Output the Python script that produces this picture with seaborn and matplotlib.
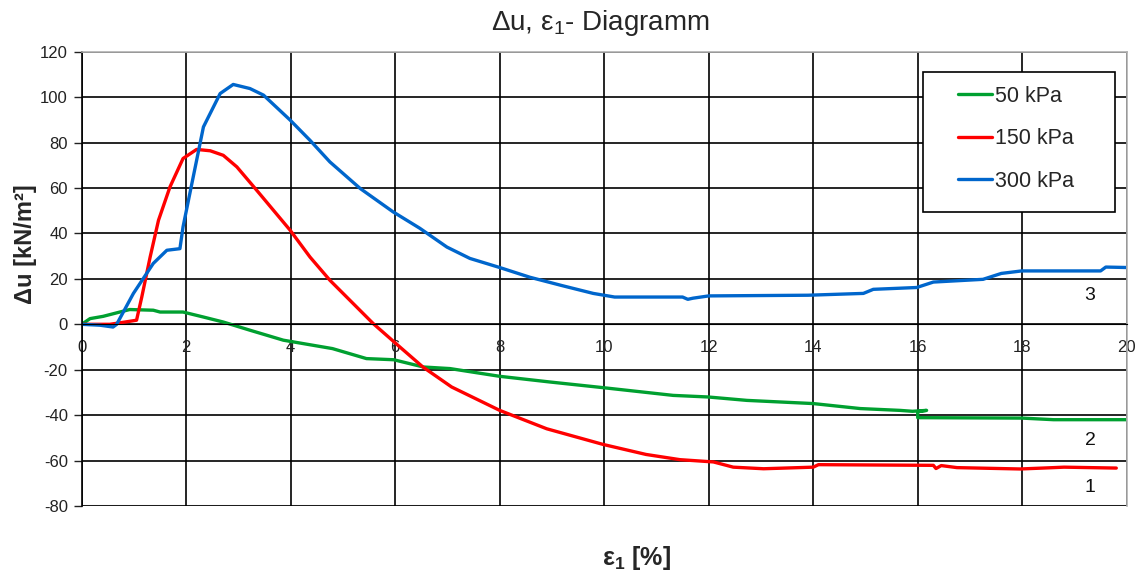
import pandas as pd
import numpy as np
import matplotlib
matplotlib.use("Agg")
import matplotlib.pyplot as plt
from matplotlib.patches import Rectangle
import seaborn as sns

# values
eps_50 = [0, 0.16, 0.41, 0.73, 0.92, 1.37, 1.5, 1.94, 2.33, 2.71, 3.22, 3.86, 4.8, 5.45, 5.97,
          6.54, 7.05, 8.0, 8.96, 9.98, 11.32, 11.99, 12.73, 14.0, 14.9, 15.66, 15.9, 16.17,
          16.0, 16.0, 18.0, 18.6, 20.0]
du_50 = [0, 2.5, 3.5, 5.4, 6.5, 6.2, 5.4, 5.4, 3.2, 1.0, -2.6, -7.0, -10.7, -15.1, -15.6,
         -18.8, -19.5, -22.9, -25.4, -27.9, -31.3, -32.0, -33.5, -34.9, -37.1, -37.9, -38.3, -37.9,
         -38.5, -41.1, -41.3, -42.0, -42.0]

eps_150 = [0, 0.54, 0.83, 1.05, 1.15, 1.31, 1.47, 1.69, 1.94, 2.2, 2.46, 2.71, 2.97, 3.35,
           3.99, 4.37, 4.75, 5.58, 6.09, 6.53, 7.08, 8.0, 8.9, 9.98, 10.8, 11.45, 12.09, 12.47,
           13.05, 14.0, 14.1, 16.3, 16.35, 16.45, 16.75, 17.96, 18.5, 18.8, 19.8]
du_150 = [0, 0, 1.0, 1.8, 12.0, 29.6, 45.8, 60.5, 73.0, 77.0, 76.4, 74.4, 69.3, 59.0,
          41.4, 29.6, 19.4, 0.3, -10.0, -18.8, -27.6, -37.9, -46.0, -52.9, -57.3, -59.6, -60.6, -62.9,
          -63.6, -62.9, -61.8, -62.1, -63.5, -62.2, -63.1, -63.7, -63.2, -62.9, -63.3]

eps_300 = [0, 0.35, 0.6, 0.67, 0.99, 1.37, 1.63, 1.88, 1.94, 2.07, 2.33, 2.65, 2.9, 3.22,
           3.48, 3.99, 4.37, 4.75, 5.33, 5.96, 6.47, 6.99, 7.43, 8.0, 8.58, 9.2, 9.79, 10.2,
           11.5, 11.6, 11.7, 12.0, 13.9, 14.96, 15.15, 15.98, 16.3, 17.25, 17.6, 17.99, 19.5,
           19.6, 20.0]
du_300 = [0, -0.4, -1.2, 0, 13.6, 26.8, 32.6, 33.3, 42.9, 57.6, 86.9, 101.6, 105.6, 103.8,
          100.9, 89.9, 81.0, 71.5, 59.8, 49.5, 42.3, 34.0, 29.0, 25.0, 20.7, 17.0, 13.6, 12.0,
          12.0, 11.0, 11.5, 12.5, 12.8, 13.6, 15.4, 16.2, 18.6, 19.8, 22.4, 23.5, 23.5,
          25.2, 25.0]

series_labels = ["50 kPa", "150 kPa", "300 kPa"]
series_colors = ["#00a030", "#ff0000", "#0066cc"]
curve_numbers = ["3", "2", "1"]
number_pos_x = [19.3, 19.3, 19.3]
number_pos_y = [12.5, -51, -72]

df = pd.concat([
    pd.DataFrame({"eps": eps_50, "du": du_50, "series": series_labels[0]}),
    pd.DataFrame({"eps": eps_150, "du": du_150, "series": series_labels[1]}),
    pd.DataFrame({"eps": eps_300, "du": du_300, "series": series_labels[2]}),
], ignore_index=True)

sns.set_style("white")
plt.rcParams["font.family"] = ["Liberation Sans", "DejaVu Sans"]
plt.rcParams["axes.unicode_minus"] = False
plt.rcParams["mathtext.default"] = "regular"

fig = plt.figure(figsize=(11.44, 5.75), dpi=100)
ax = fig.add_axes([0.0714, 0.12, 0.9135, 0.79])

sns.lineplot(data=df, x="eps", y="du", hue="series", palette=series_colors,
             sort=False, estimator=None, linewidth=2.4, ax=ax)

ax.set_xlim(0, 20)
ax.set_ylim(-80, 120)
ax.set_xticks(np.arange(0, 21, 2))
ax.set_yticks(np.arange(-80, 121, 20))
ax.grid(True, color="black", linewidth=1.2)
ax.set_axisbelow(True)

# Excel-like axes: x axis crosses at 0
for s in ["top", "right"]:
    ax.spines[s].set_color("#b0b0b0")
    ax.spines[s].set_linewidth(1.2)
ax.spines["bottom"].set_position(("data", 0))
ax.spines["bottom"].set_color("black")
ax.spines["left"].set_color("black")
ax.spines["left"].set_linewidth(1.2)
ax.axhline(-80, color="#b0b0b0", linewidth=1.5, zorder=0)

ax.tick_params(axis="x", length=0, pad=11, labelsize=12, colors="#222222")
ax.tick_params(axis="y", length=6, width=1, left=True, pad=4, labelsize=12, colors="#222222")

ax.set_xlabel("")
ax.set_ylabel("")
fig.text(0.022, 0.576, "Δu [kN/m²]", fontsize=17, fontweight="bold",
         rotation=90, ha="center", va="center")
fig.text(0.556, 0.030, r"$\mathregular{ε_1}$ [%]", fontsize=18, fontweight="bold",
         ha="center", va="center")
fig.text(0.5245, 0.960, r"Δu, $\mathregular{ε_1}$- Diagramm", fontsize=20,
         ha="center", va="center")

for num, nx, ny in zip(curve_numbers, number_pos_x, number_pos_y):
    ax.text(nx, ny, num, fontsize=14, ha="center", va="center", color="#111111")

# legend box drawn by hand, entries placed inside it
ax.add_patch(Rectangle((0.805, 0.647), 0.184, 0.308, transform=ax.transAxes,
                       facecolor="white", edgecolor="black", linewidth=1.2, zorder=5))
leg = ax.legend(loc="upper left", bbox_to_anchor=(0.8386, 0.925), frameon=False,
                fontsize=15.5, labelspacing=1.0, handlelength=1.6, handletextpad=0.1,
                borderpad=0, borderaxespad=0)
leg.set_zorder(6)
for line in leg.get_lines():
    line.set_linewidth(2.4)

fig.savefig("out.png", dpi=100)
